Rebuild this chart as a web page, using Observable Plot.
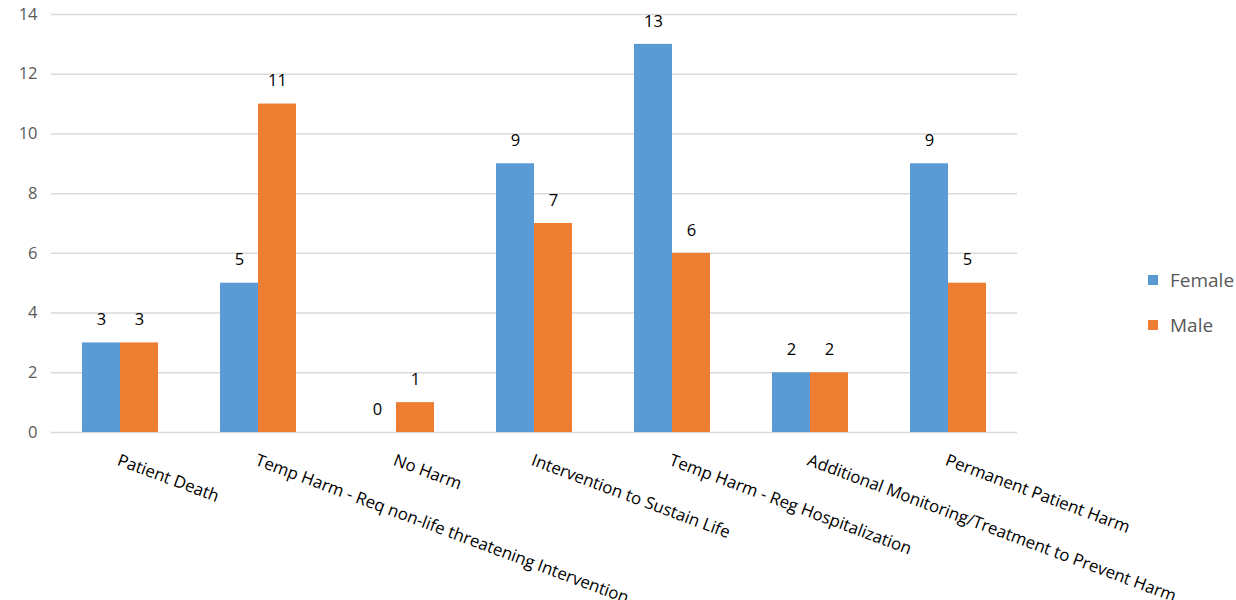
<!DOCTYPE html>
<html>
<head>
<meta charset="utf-8">
<script src="https://cdn.jsdelivr.net/npm/d3@7"></script>
<script src="https://cdn.jsdelivr.net/npm/@observablehq/plot@0.6"></script>
<style>
  body { margin: 0; background: #fff; }
  #wrap { position: relative; width: 1236px; height: 600px; }
  #legend { position: absolute; left: 1148px; top: 265px; font-family: "Open Sans", sans-serif; font-size: 19px; color: #595959; }
  #legend .item { display: flex; align-items: center; height: 30px; margin-bottom: 15px; }
  #legend .sw { width: 10px; height: 10px; margin-right: 12px; }
</style>
</head>
<body>
<div id="wrap"></div>
<script>
const categories = [
  "Patient Death",
  "Temp Harm - Req non-life threatening Intervention",
  "No Harm",
  "Intervention to Sustain Life",
  "Temp Harm - Reg Hospitalization",
  "Additional Monitoring/Treatment to Prevent Harm",
  "Permanent Patient Harm"
];
const series = ["Female", "Male"];
const female = [3, 5, 0, 9, 13, 2, 9];
const male = [3, 11, 1, 7, 6, 2, 5];
const colors = ["#5B9BD5", "#ED7D31"];
const yTicks = [0, 2, 4, 6, 8, 10, 12, 14];

const rows = [];
categories.forEach((c, i) => {
  rows.push({category: c, sex: "Female", value: female[i]});
  rows.push({category: c, sex: "Male", value: male[i]});
});

const chart = Plot.plot({
  width: 1236,
  height: 600,
  marginLeft: 49,
  marginRight: 218,
  marginTop: 14,
  marginBottom: 168,
  style: {fontFamily: "'Open Sans', sans-serif", background: "#fff", overflow: "visible"},
  fx: {domain: categories, padding: 0, axis: null},
  x: {domain: series, paddingInner: 0, paddingOuter: 0.77, axis: null},
  y: {domain: [0, 14], ticks: yTicks, label: null, grid: false, axis: null},
  color: {domain: series, range: colors},
  marks: [
    Plot.ruleY(yTicks, {stroke: "#d9d9d9", strokeWidth: 1.5}),
    Plot.axisY({ticks: yTicks, tickSize: 0, tickPadding: 14, label: null, fontSize: 16.5, color: "#595959", tickFormat: d => d}),
    Plot.barY(rows, {fx: "category", x: "sex", y: "value", fill: "sex"}),
    Plot.text(rows, {fx: "category", x: "sex", y: "value", text: d => String(d.value), dy: -23, fontSize: 16.5, fill: "#000"}),
    Plot.text(categories, {fx: d => d, frameAnchor: "bottom", text: d => d, rotate: 20.5, textAnchor: "start", lineAnchor: "top", dx: 0, dy: 21, fontSize: 16.8, fill: "#000"})
  ]
});

const wrap = document.getElementById("wrap");
wrap.appendChild(chart);
const legend = document.createElement("div");
legend.id = "legend";
series.forEach((s, i) => {
  const item = document.createElement("div");
  item.className = "item";
  const sw = document.createElement("div");
  sw.className = "sw";
  sw.style.background = colors[i];
  const t = document.createElement("span");
  t.textContent = s;
  item.appendChild(sw);
  item.appendChild(t);
  legend.appendChild(item);
});
wrap.appendChild(legend);
</script>
</body>
</html>
